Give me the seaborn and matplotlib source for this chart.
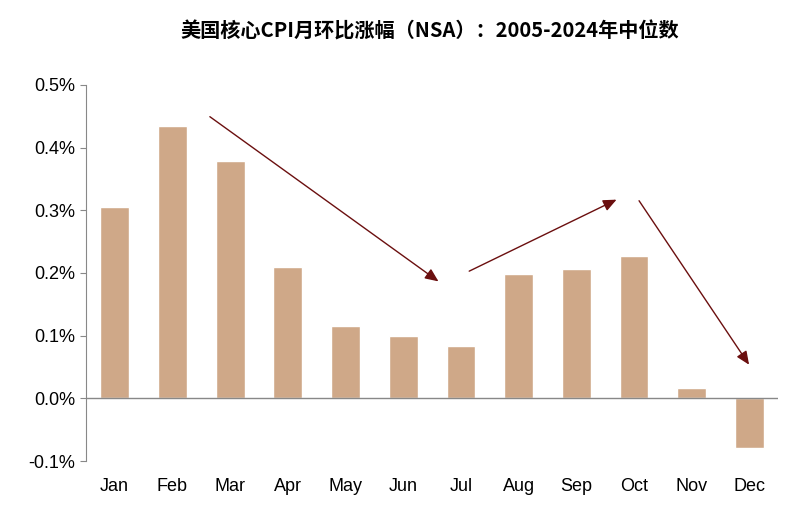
import matplotlib
matplotlib.use("Agg")
import matplotlib.pyplot as plt
import seaborn as sns
import pandas as pd

months = ["Jan","Feb","Mar","Apr","May","Jun","Jul","Aug","Sep","Oct","Nov","Dec"]
values = [0.305,0.435,0.378,0.210,0.115,0.099,0.083,0.199,0.207,0.227,0.017,-0.080]
yticks = [-0.1,0.0,0.1,0.2,0.3,0.4,0.5]
arrows = [((1.61,0.452),(5.65,0.184)),((6.1,0.201),(8.74,0.319)),((9.06,0.319),(11.02,0.050))]

sns.set_style("white")
plt.rcParams['font.family'] = ['Arial', 'Liberation Sans', 'Noto Sans CJK SC', 'DejaVu Sans']

fig = plt.figure(figsize=(7.95,5.12), dpi=100)
ax = fig.add_axes([0.108,0.0996,0.871,0.7344])
df = pd.DataFrame({"m":months,"v":values})
sns.barplot(data=df,x="m",y="v",color="#CFA888",saturation=1,width=0.5,ax=ax)
ax.set_xlim(-0.5,11.5)
ax.set_ylim(-0.1,0.5)
ax.set_yticks(yticks)
ax.set_yticklabels([f"{t:.1f}%" for t in yticks],fontsize=13)
ax.tick_params(axis='x',labelsize=13,length=0,pad=12,labelcolor="black")
ax.tick_params(axis='y',length=4,left=True,color="#888888",labelcolor="black")
ax.set_xlabel(""); ax.set_ylabel("")
for s in ["top","right","bottom"]:
    ax.spines[s].set_visible(False)
ax.spines["left"].set_color("#888888")
ax.axhline(0,color="#888888",lw=1)
for (x0,y0),(x1,y1) in arrows:
    ax.annotate("",xy=(x1,y1),xytext=(x0,y0),
                arrowprops=dict(arrowstyle="-|>,head_length=0.8,head_width=0.35",color="#6B0F0F",lw=1))
fig.text(0.54,0.94,"美国核心CPI月环比涨幅（NSA）：2005-2024年中位数",ha="center",va="center",
         fontsize=14.5,fontweight="heavy",color="black",family=['Noto Sans CJK SC','DejaVu Sans'])
fig.savefig("out.png",dpi=100)
